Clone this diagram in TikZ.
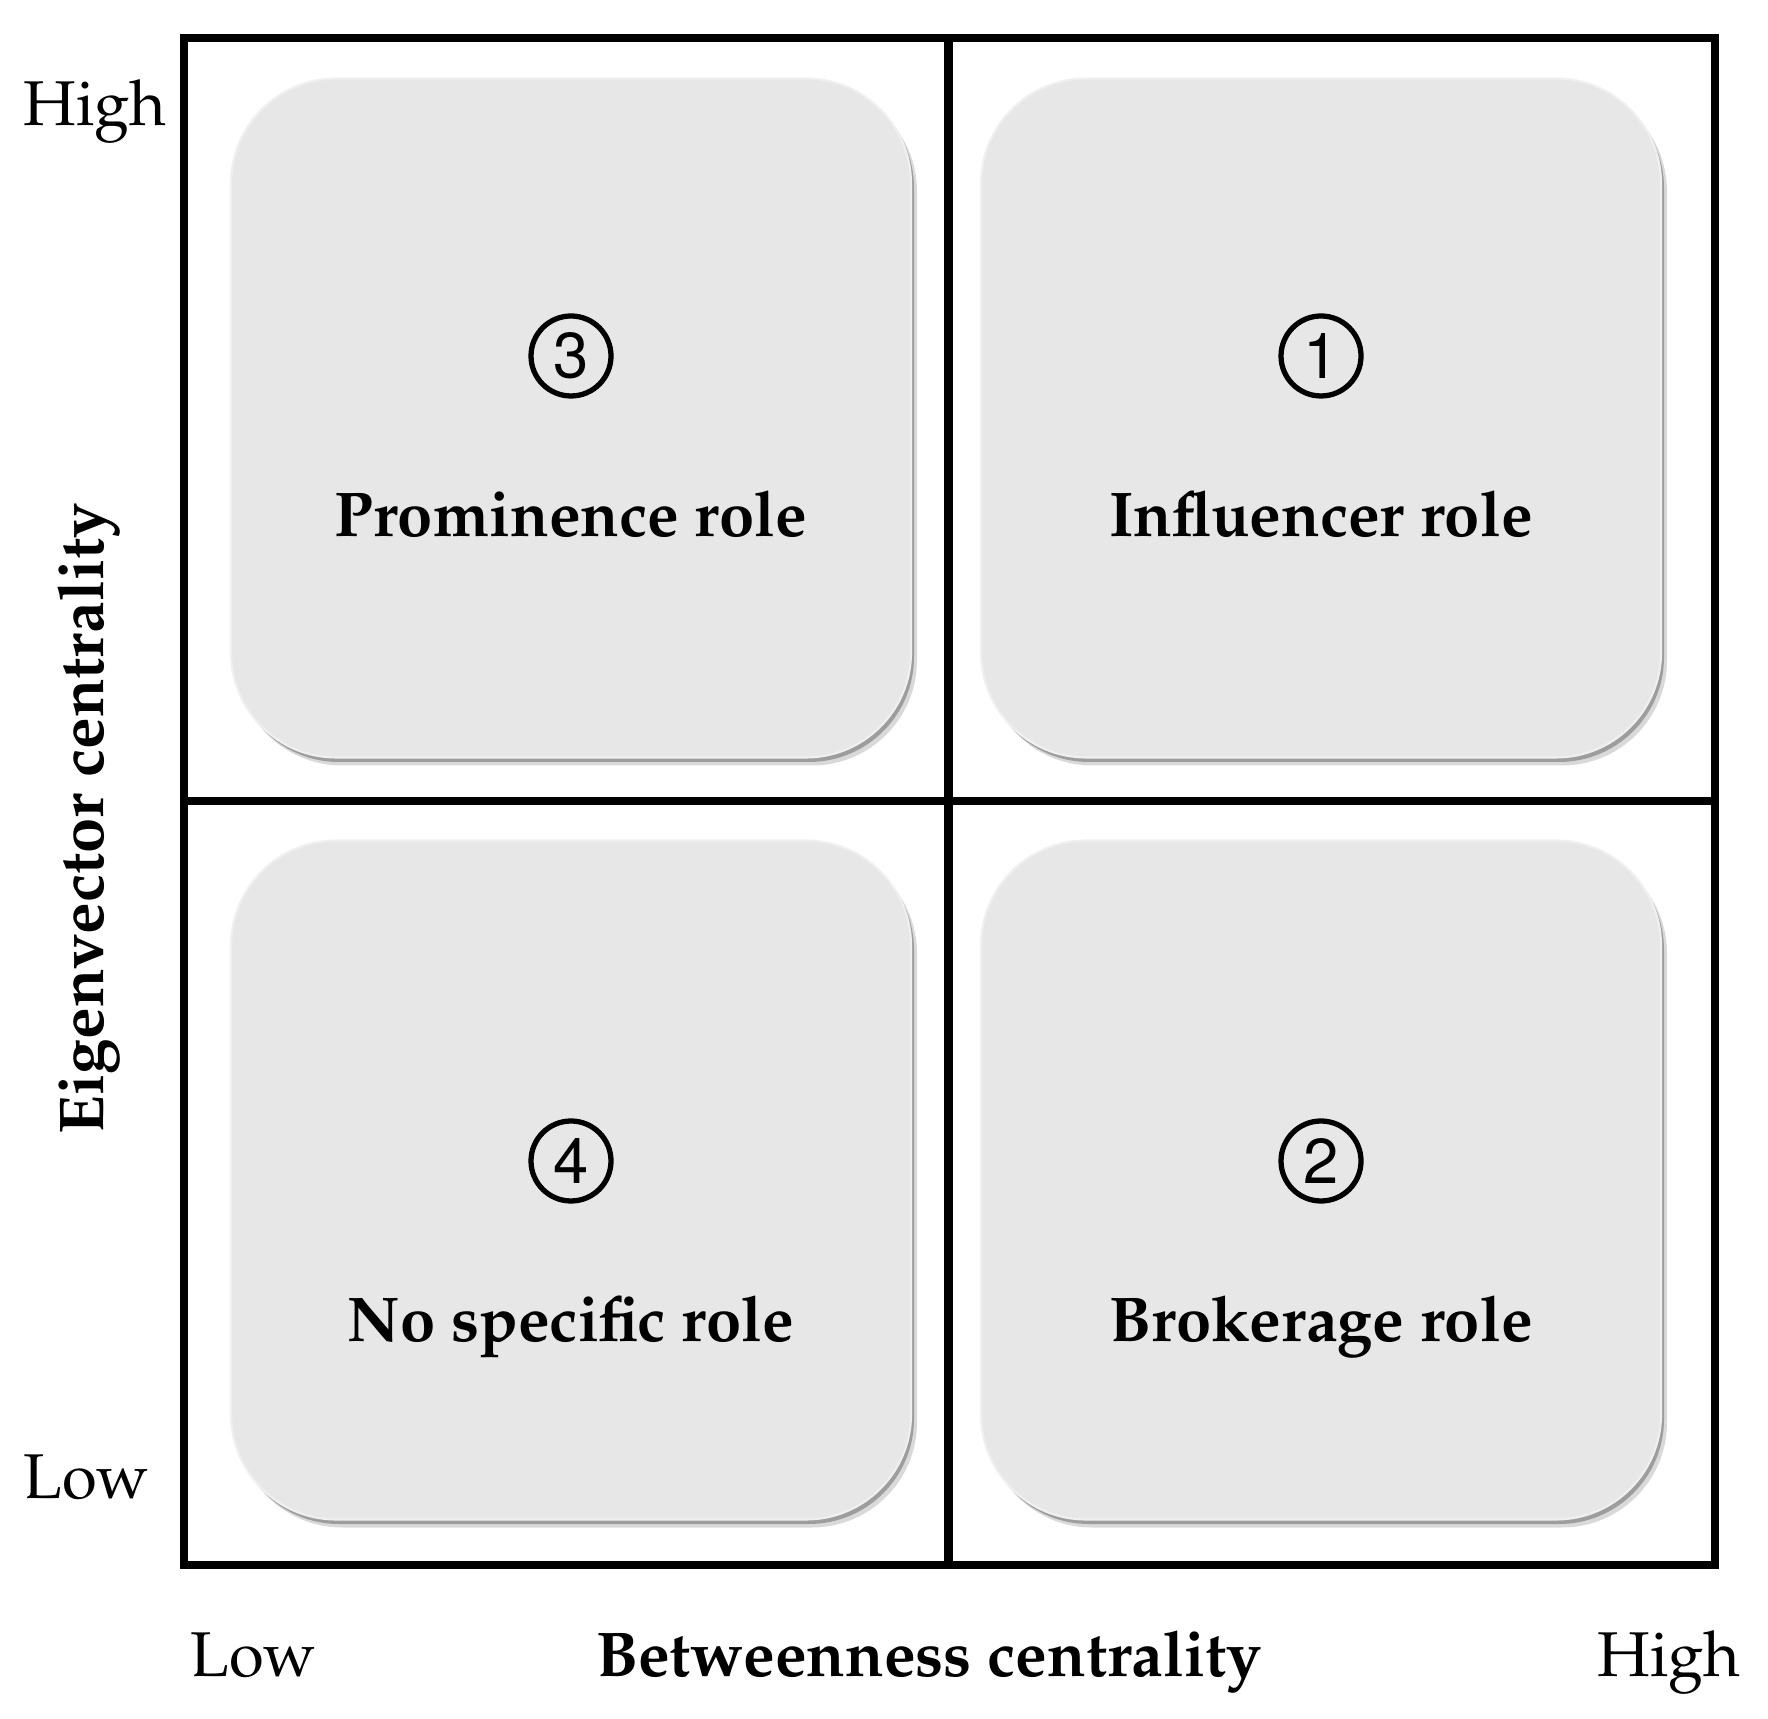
\documentclass[tikz,border=0pt]{standalone}
\usepackage[T1]{fontenc}
\usepackage{mathpazo}
\usepackage[scaled=0.95]{helvet}
\usepackage{tikz}
\usetikzlibrary{shadows}
\usetikzlibrary{positioning}

\begin{document}
\begin{tikzpicture}[thick,node distance=7.5cm,
	role node/.style={rectangle,rounded corners=1.05cm,minimum width=6.8cm,minimum height=6.79cm,
		fill=boxgray,draw=white!94!black,line width=0.6pt,
		drop shadow={shadow xshift=0.06cm,shadow yshift=-0.08cm,fill=black,opacity=0.15},
		drop shadow={shadow xshift=0.03cm,shadow yshift=-0.045cm,fill=black,opacity=0.28}},
	num node/.style={circle,draw,line width=1.5pt,minimum size=0.8cm,inner sep=0pt,
		font=\fontsize{19}{24}\selectfont\sffamily},
	role label/.style={inner sep=0pt,anchor=base,font=\fontsize{18}{22}\selectfont\bfseries},
	axis label/.style={inner sep=0pt,font=\fontsize{18}{22}\selectfont}]
	
	\definecolor{boxgray}{RGB}{231,231,231}
	
	\useasboundingbox (0,0) rectangle (17.68,17.18);
	
	% the four roles
	\node[role node] (p) at (5.71,13.0) {};
	\node[role node] (i) [right of=p] {};
	\node[role node] (n) [below of=p, node distance=7.62cm] {};
	\node[role node] (b) [right of=n] {};
	
	\node[num node] (c3) at ([yshift=0.62cm]p.center) {3};
	\node[num node] (c1) at ([yshift=0.62cm]i.center) {1};
	\node[num node] (c4) at ([yshift=0.19cm]n.center) {4};
	\node[num node] (c2) at ([yshift=0.19cm]b.center) {2};
	
	\node[role label] (lp) at ([yshift=-1.19cm]p.center) {Prominence role};
	\node[role label] (li) at ([yshift=-1.19cm]i.center) {Influencer role};
	\node[role label] (ln) at ([yshift=-1.61cm]n.center) {No specific role};
	\node[role label] (lb) at ([yshift=-1.61cm]b.center) {Brokerage role};
	
	% frame
	\draw[line width=2.3pt] (1.84,1.53) rectangle (17.15,16.80);
	\draw[line width=2.3pt] (9.485,1.53) -- (9.485,16.80);
	\draw[line width=2.3pt] (1.84,9.17) -- (17.15,9.17);
	
	% axes
	\node[axis label, anchor=base west] (yh) at (0.22,15.92) {High};
	\node[axis label, anchor=base west] (yl) at (0.22,2.20) {Low};
	\node[axis label, anchor=base west] (xl) at (1.89,0.42) {Low};
	\node[axis label, anchor=base east] (xh) at (17.42,0.42) {High};
	\node[role label] (xt) at (9.29,0.42) {Betweenness centrality};
	\node[role label, rotate=90] (yt) at (1.03,8.99) {Eigenvector centrality};
\end{tikzpicture}
\end{document}
